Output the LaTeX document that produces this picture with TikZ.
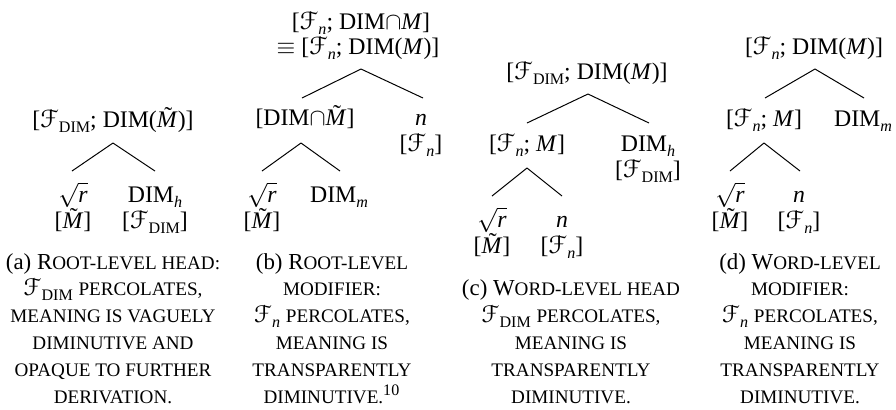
\documentclass[tikz,border=0pt]{standalone}
\usepackage{fontspec}
\setmainfont{Liberation Serif}
\newfontfamily\scrfont{DejaVu Sans}
\newcommand\smc[1]{{\fontsize{8.7}{12}\selectfont #1}}
\newcommand\FF{{\scrfont\itshape ℱ}}
\newcommand\sub[1]{\raisebox{-0.22em}{\fontsize{7.3}{7}\selectfont #1}}
\newcommand\tM{\makebox[0pt][l]{\hspace{0.31em}\smash{\raisebox{0.16em}{˜}}}\textit{M}}
\newcommand\rt{$\sqrt{\mbox{\textit{r}}}$}
\newcommand\cp{$\cap$}
\tikzset{
  lab/.style={anchor=base, inner sep=0pt, font=\fontsize{10.8}{12}\selectfont},
  capline/.style={anchor=base, inner sep=0pt, font=\fontsize{10.4}{12}\selectfont},
  edge/.style={line width=0.45pt}
}
\begin{document}
\begin{tikzpicture}[x=0.4545pt, y=-0.4545pt]
\useasboundingbox (0,0) rectangle (896,409);

% ---------- (a)
\node[lab] (aroot) at (113,127) {[\FF\sub{DIM}; DIM(\tM)]};
\coordinate (aT) at (113,143);
\coordinate (aL) at (72,171);
\coordinate (aR) at (155,171);
\draw[edge] (aT) -- (aL);
\draw[edge] (aT) -- (aR);
\node[lab] (ar) at (73,202) {\rt};
\node[lab] (arf) at (73,228) {[\tM]};
\node[lab] (ad) at (155,202) {DIM\sub{\textit{h}}};
\node[lab] (adf) at (155,228) {[\FF\sub{DIM}]};

% ---------- (b)
\node[lab] (broot1) at (361,29) {[\FF\sub{\textit{n}}; DIM\cp\textit{M}]};
\node[lab] (broot2) at (358,54) {$\equiv$ [\FF\sub{\textit{n}}; DIM(\textit{M})]};
\coordinate (bT) at (361,69);
\coordinate (bL) at (302,98);
\coordinate (bR) at (423,98);
\draw[edge] (bT) -- (bL);
\draw[edge] (bT) -- (bR);
\node[lab] (bmid) at (305,125) {[DIM\cp\tM]};
\node[lab] (bn) at (421,125) {\textit{n}};
\node[lab] (bnf) at (421,151) {[\FF\sub{\textit{n}}]};
\coordinate (bT2) at (301,143);
\coordinate (bL2) at (262,171);
\coordinate (bR2) at (340,171);
\draw[edge] (bT2) -- (bL2);
\draw[edge] (bT2) -- (bR2);
\node[lab] (br) at (262,202) {\rt};
\node[lab] (brf) at (262,228) {[\tM]};
\node[lab] (bd) at (339,202) {DIM\sub{\textit{m}}};

% ---------- (c)
\node[lab] (croot) at (587,79) {[\FF\sub{DIM}; DIM(\textit{M})]};
\coordinate (cT) at (588,94);
\coordinate (cL) at (527,123);
\coordinate (cR) at (649,123);
\draw[edge] (cT) -- (cL);
\draw[edge] (cT) -- (cR);
\node[lab] (cmid) at (527,151) {[\FF\sub{\textit{n}}; \textit{M}]};
\node[lab] (cd) at (648,151) {DIM\sub{\textit{h}}};
\node[lab] (cdf) at (648,177) {[\FF\sub{DIM}]};
\coordinate (cT2) at (527,168);
\coordinate (cL2) at (492,196);
\coordinate (cR2) at (562,196);
\draw[edge] (cT2) -- (cL2);
\draw[edge] (cT2) -- (cR2);
\node[lab] (cr) at (492,227) {\rt};
\node[lab] (crf) at (492,253) {[\tM]};
\node[lab] (cn) at (562,227) {\textit{n}};
\node[lab] (cnf) at (562,253) {[\FF\sub{\textit{n}}]};

% ---------- (d)
\node[lab] (droot) at (814,54) {[\FF\sub{\textit{n}}; DIM(\textit{M})]};
\coordinate (dT) at (815,69);
\coordinate (dL) at (765,98);
\coordinate (dR) at (864,98);
\draw[edge] (dT) -- (dL);
\draw[edge] (dT) -- (dR);
\node[lab] (dmid) at (764,126) {[\FF\sub{\textit{n}}; \textit{M}]};
\node[lab] (dd) at (863,126) {DIM\sub{\textit{m}}};
\coordinate (dT2) at (764,143);
\coordinate (dL2) at (730,171);
\coordinate (dR2) at (800,171);
\draw[edge] (dT2) -- (dL2);
\draw[edge] (dT2) -- (dR2);
\node[lab] (dr) at (730,202) {\rt};
\node[lab] (drf) at (730,228) {[\tM]};
\node[lab] (dn) at (799,202) {\textit{n}};
\node[lab] (dnf) at (799,228) {[\FF\sub{\textit{n}}]};

% ---------- captions
\node[capline] (ca1) at (113,269)   {(a) R\smc{OOT-LEVEL HEAD:}};
\node[capline] (ca2) at (113,295.8) {\FF\sub{DIM} \smc{PERCOLATES,}};
\node[capline] (ca3) at (113,322.6) {\smc{MEANING IS VAGUELY}};
\node[capline] (ca4) at (113,349.4) {\smc{DIMINUTIVE AND}};
\node[capline] (ca5) at (113,376.2) {\smc{OPAQUE TO FURTHER}};
\node[capline] (ca6) at (113,403)   {\smc{DERIVATION.}};

\node[capline] (cb1) at (332,269)   {(b) R\smc{OOT-LEVEL}};
\node[capline] (cb2) at (332,295.8) {\smc{MODIFIER:}};
\node[capline] (cb3) at (332,322.6) {\FF\sub{\textit{n}} \smc{PERCOLATES,}};
\node[capline] (cb4) at (332,349.4) {\smc{MEANING IS}};
\node[capline] (cb5) at (332,376.2) {\smc{TRANSPARENTLY}};
\node[capline] (cb6) at (332,403)   {\smc{DIMINUTIVE.}\textsuperscript{10}};

\node[capline] (cc1) at (571,295.8) {(c) W\smc{ORD-LEVEL HEAD}};
\node[capline] (cc2) at (571,322.6) {\FF\sub{DIM} \smc{PERCOLATES,}};
\node[capline] (cc3) at (571,349.4) {\smc{MEANING IS}};
\node[capline] (cc4) at (571,376.2) {\smc{TRANSPARENTLY}};
\node[capline] (cc5) at (571,403)   {\smc{DIMINUTIVE.}};

\node[capline] (cd1) at (800,269)   {(d) W\smc{ORD-LEVEL}};
\node[capline] (cd2) at (800,295.8) {\smc{MODIFIER:}};
\node[capline] (cd3) at (800,322.6) {\FF\sub{\textit{n}} \smc{PERCOLATES,}};
\node[capline] (cd4) at (800,349.4) {\smc{MEANING IS}};
\node[capline] (cd5) at (800,376.2) {\smc{TRANSPARENTLY}};
\node[capline] (cd6) at (800,403)   {\smc{DIMINUTIVE.}};
\end{tikzpicture}
\end{document}
